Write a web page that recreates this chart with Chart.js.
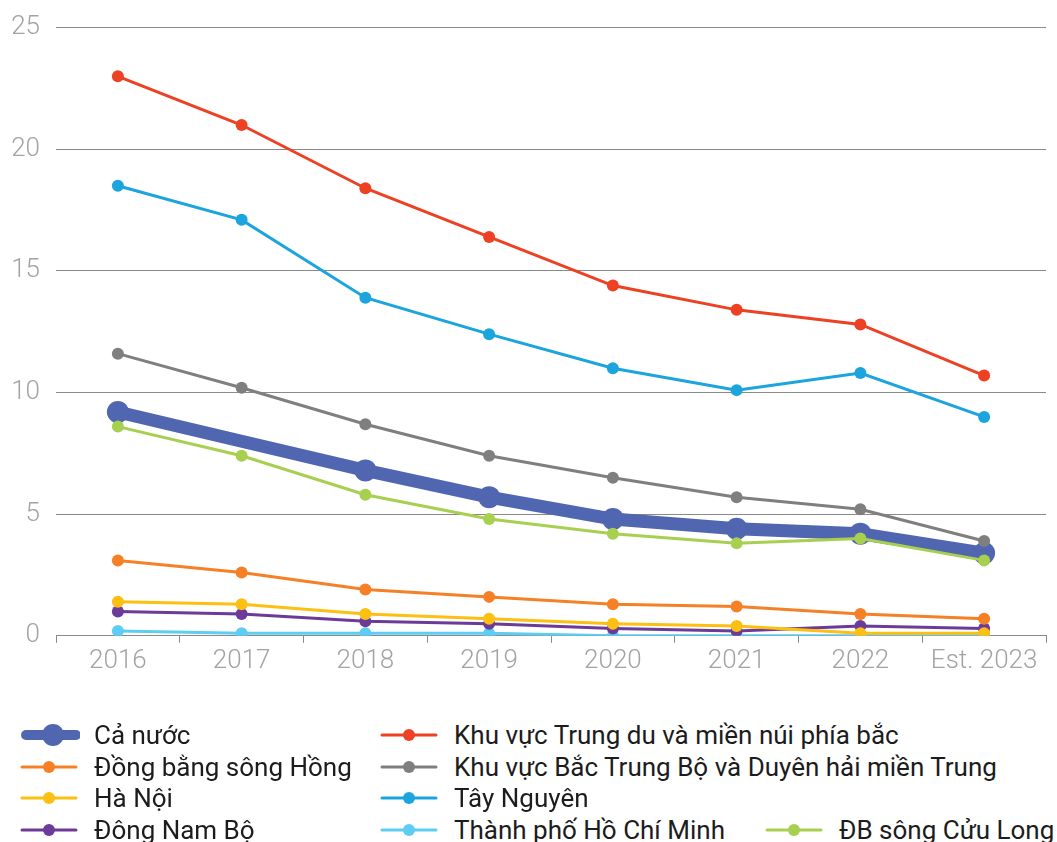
<!DOCTYPE html>
<html lang="vi">
<head>
<meta charset="utf-8">
<title>Tỷ lệ hộ nghèo theo vùng</title>
<script src="https://cdn.jsdelivr.net/npm/chart.js@4.4.1/dist/chart.umd.min.js"></script>
<style>
  html, body { margin: 0; padding: 0; background: #fff; }
  body { width: 1057px; height: 842px; position: relative; overflow: hidden; font-family: Roboto, "Noto Sans", sans-serif; }
  #wrap { position: absolute; left: 0; top: 0; width: 1057px; height: 680px; }
  #legend { position: absolute; left: 0; top: 716px; width: 1057px; height: 126px; }
  .item { position: absolute; height: 32px; display: flex; align-items: center; font-size: 26px; color: #1c1c1c; white-space: nowrap; }
  .item canvas { margin-right: 14px; }
</style>
</head>
<body>
<div id="wrap"><canvas id="povertyChart"></canvas></div>
<div id="legend"></div>
<script>
// Years and tick values
const years = ["2016", "2017", "2018", "2019", "2020", "2021", "2022", "Est. 2023"];
const yTicks = [0, 5, 10, 15, 20, 25];

// Series (%)
const caNuoc      = [9.2, 8.0, 6.8, 5.7, 4.8, 4.4, 4.2, 3.4];
const dbSongHong  = [3.1, 2.6, 1.9, 1.6, 1.3, 1.2, 0.9, 0.7];
const haNoi       = [1.4, 1.3, 0.9, 0.7, 0.5, 0.4, 0.1, 0.1];
const dongNamBo   = [1.0, 0.9, 0.6, 0.5, 0.3, 0.2, 0.4, 0.3];
const trungDu     = [23.0, 21.0, 18.4, 16.4, 14.4, 13.4, 12.8, 10.7];
const bacTrungBo  = [11.6, 10.2, 8.7, 7.4, 6.5, 5.7, 5.2, 3.9];
const tayNguyen   = [18.5, 17.1, 13.9, 12.4, 11.0, 10.1, 10.8, 9.0];
const tpHCM       = [0.2, 0.1, 0.1, 0.1, 0.0, 0.0, 0.0, 0.0];
const cuuLong     = [8.6, 7.4, 5.8, 4.8, 4.2, 3.8, 4.0, 3.1];

function series(label, data, color) {
  return {
    label, data,
    borderColor: color, backgroundColor: color,
    borderWidth: 3, pointRadius: 6, pointHoverRadius: 6,
    pointBorderWidth: 0, tension: 0, order: 0
  };
}

const datasets = [
  Object.assign(series("Cả nước", caNuoc, "#5066b0"), {
    borderWidth: 13, pointRadius: [11, 0, 11, 11, 11, 11, 11, 11], order: 1
  }),
  series("Đồng bằng sông Hồng", dbSongHong, "#f58026"),
  series("Hà Nội", haNoi, "#fcbf12"),
  series("Đông Nam Bộ", dongNamBo, "#6c3a98"),
  series("Khu vực Trung du và miền núi phía bắc", trungDu, "#ee4123"),
  series("Khu vực Bắc Trung Bộ và Duyên hải miền Trung", bacTrungBo, "#7f7f7f"),
  series("Tây Nguyên", tayNguyen, "#1ba4dd"),
  series("Thành phố Hồ Chí Minh", tpHCM, "#5ecdf3"),
  series("ĐB sông Cửu Long", cuuLong, "#a7cf50")
];

const tickFont = { family: "Roboto", size: 26, weight: 300 };

const chart = new Chart(document.getElementById("povertyChart"), {
  type: "line",
  data: { labels: years, datasets },
  options: {
    responsive: true,
    maintainAspectRatio: false,
    animation: false,
    layout: { padding: { left: 0, right: 1, top: 27, bottom: 0 } },
    plugins: { legend: { display: false }, tooltip: { enabled: false } },
    scales: {
      x: {
        offset: true,
        grid: { drawOnChartArea: false, color: "#8a8a8a", tickLength: 7, offset: true },
        border: { color: "#8a8a8a", width: 1 },
        ticks: { color: "#a3a3a3", font: tickFont, padding: 3, maxRotation: 0 }
      },
      y: {
        min: 0, max: 25,
        afterBuildTicks: axis => { axis.ticks = yTicks.map(v => ({ value: v })); },
        afterFit: axis => { axis.width = 56; },
        grid: { color: "#8a8a8a", drawTicks: false },
        border: { display: false },
        ticks: { color: "#a3a3a3", font: Object.assign({ lineHeight: 0.9 }, tickFont), padding: 16 }
      }
    }
  }
});

// Legend laid out in columns, markers drawn from dataset styles
const legendCols = [20, 380, 765];
const legendPlace = [[0, 0], [0, 1], [0, 2], [0, 3], [1, 0], [1, 1], [1, 2], [1, 3], [2, 3]];
const legendEl = document.getElementById("legend");
chart.data.datasets.forEach((ds, i) => {
  const [col, row] = legendPlace[i];
  const item = document.createElement("div");
  item.className = "item";
  item.style.left = legendCols[col] + "px";
  item.style.top = (row * 31.5 + 3) + "px";
  const c = document.createElement("canvas");
  c.width = 60; c.height = 28;
  const g = c.getContext("2d");
  const big = i === 0;
  g.strokeStyle = ds.borderColor;
  g.lineWidth = big ? 10 : 3;
  g.lineCap = "round";
  g.beginPath(); g.moveTo(big ? 6 : 2, 14); g.lineTo(56, 14); g.stroke();
  g.fillStyle = ds.borderColor;
  g.beginPath(); g.arc(big ? 33 : 29, 14, big ? 11 : 6, 0, Math.PI * 2); g.fill();
  item.appendChild(c);
  item.appendChild(document.createTextNode(ds.label));
  legendEl.appendChild(item);
});
</script>
</body>
</html>
